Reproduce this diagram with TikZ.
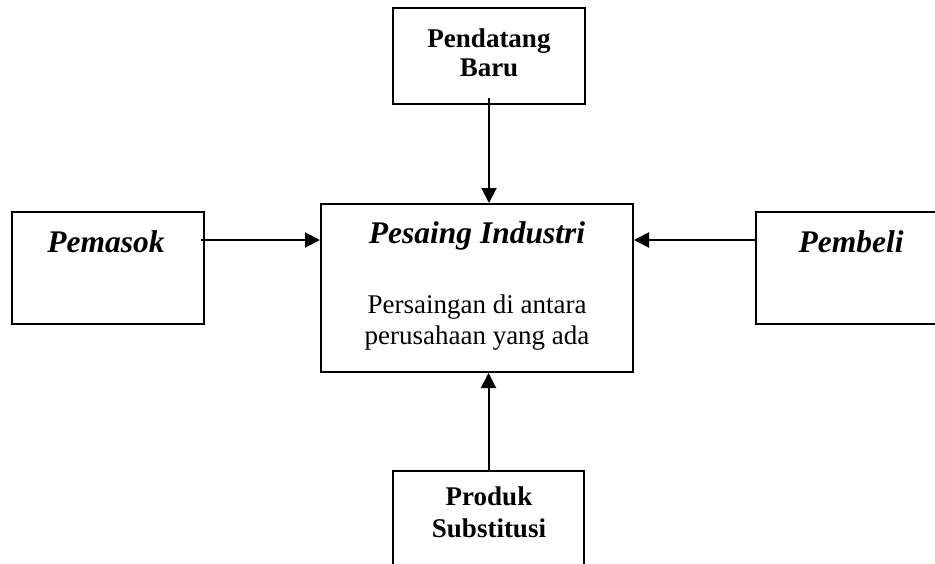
\documentclass[tikz,border=0pt]{standalone}
\usepackage{fontspec}
\setmainfont{Liberation Serif}
\usetikzlibrary{arrows.meta}
\begin{document}
\begin{tikzpicture}[x=1pt,y=-1pt,
  box/.style={draw, line width=2pt, inner sep=0pt, rectangle},
  arr/.style={line width=2pt, -{Triangle[length=15pt,width=15pt]}},
  bigit/.style={inner sep=0pt, anchor=base, font=\fontsize{31.5}{36}\selectfont\bfseries\itshape},
  bold/.style={inner sep=0pt, anchor=base, font=\fontsize{27}{31}\selectfont\bfseries},
  reg/.style={inner sep=0pt, anchor=base, font=\fontsize{27}{31}\selectfont}]
\useasboundingbox (0,0) rectangle (935,563);
\clip (0,0) rectangle (935,563);
% boxes
\node[box, minimum width=192pt, minimum height=96pt]  (pendatang) at (489,56) {};
\node[box, minimum width=192pt, minimum height=112pt] (pemasok)   at (108,268) {};
\node[box, minimum width=312pt, minimum height=168pt] (pesaing)   at (477,288) {};
\node[box, minimum width=192pt, minimum height=112pt] (pembeli)   at (852,268) {};
\node[box, minimum width=191pt, minimum height=96pt]  (produk)    at (488.5,519) {};
% texts
\node[bold] (t1a) at (489,47) {Pendatang};
\node[bold] (t1b) at (489,76) {Baru};
\node[bigit] (t2) at (106,252) {Pemasok};
\node[bigit] (t3) at (851,252) {Pembeli};
\node[bigit] (t4) at (477,243) {Pesaing Industri};
\node[reg] (t5a) at (477,313) {Persaingan di antara};
\node[reg] (t5b) at (477,344) {perusahaan yang ada};
\node[bold] (t6a) at (489,505) {Produk};
\node[bold] (t6b) at (489,537) {Substitusi};
% connectors
\draw[arr] ([yshift=7pt]pendatang.south) -- (pendatang.south |- pesaing.north);
\draw[arr] ([yshift=28pt,xshift=-4pt]pemasok.east) -- ([yshift=28pt]pemasok.east -| pesaing.west);
\draw[arr] ([yshift=28pt]pembeli.west) -- ([yshift=28pt]pembeli.west -| pesaing.east);
\draw[arr] (produk.north) -- (produk.north |- pesaing.south);
\end{tikzpicture}
\end{document}
